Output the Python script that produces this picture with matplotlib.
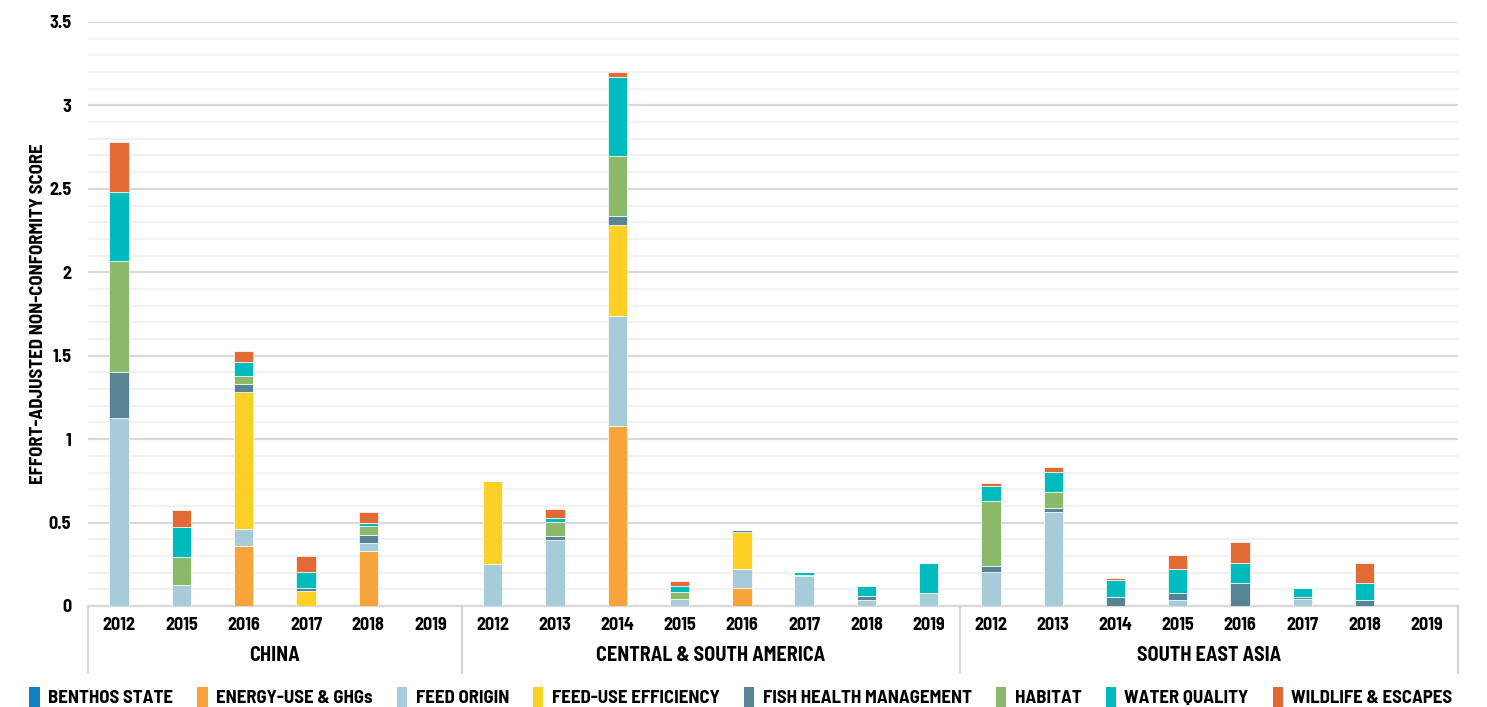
import numpy as np
import matplotlib
matplotlib.use('Agg')
import matplotlib.pyplot as plt
from matplotlib.ticker import MultipleLocator, FuncFormatter
from matplotlib.patches import Patch

plt.rcParams['font.family'] = ['Barlow Semi Condensed', 'DejaVu Sans']
plt.rcParams['font.weight'] = 'bold'

#--categories
groups = ['CHINA', 'CENTRAL & SOUTH AMERICA', 'SOUTH EAST ASIA']
years_china = ['2012', '2015', '2016', '2017', '2018', '2019']
years_csa = ['2012', '2013', '2014', '2015', '2016', '2017', '2018', '2019']
years_sea = ['2012', '2013', '2014', '2015', '2016', '2017', '2018', '2019']

#--series (china | central & south america | south east asia)
benthos_state = [0, 0, 0, 0, 0, 0,
                 0, 0, 0, 0, 0, 0, 0, 0,
                 0, 0, 0, 0, 0, 0, 0, 0]
energy_use = [0, 0, 0.36, 0, 0.33, 0,
              0, 0, 1.08, 0, 0.11, 0, 0, 0,
              0, 0, 0, 0, 0, 0, 0, 0]
feed_origin = [1.125, 0.125, 0.10, 0, 0.046, 0,
               0.25, 0.395, 0.66, 0.04, 0.11, 0.18, 0.035, 0.08,
               0.205, 0.565, 0, 0.035, 0, 0.04, 0, 0]
feed_efficiency = [0, 0, 0.82, 0.09, 0, 0,
                   0.50, 0, 0.545, 0, 0.225, 0, 0, 0,
                   0, 0, 0, 0, 0, 0, 0, 0]
fish_health = [0.275, 0, 0.05, 0.015, 0.048, 0,
               0, 0.025, 0.05, 0, 0.01, 0.008, 0.027, 0,
               0.035, 0.025, 0.055, 0.04, 0.135, 0.016, 0.038, 0]
habitat = [0.67, 0.17, 0.05, 0, 0.056, 0,
           0, 0.085, 0.36, 0.045, 0, 0, 0, 0,
           0.39, 0.095, 0, 0, 0, 0, 0, 0]
water_quality = [0.41, 0.18, 0.08, 0.10, 0.016, 0,
                 0, 0.025, 0.475, 0.037, 0, 0.018, 0.058, 0.18,
                 0.09, 0.12, 0.10, 0.145, 0.12, 0.05, 0.10, 0]
wildlife = [0.30, 0.10, 0.07, 0.095, 0.066, 0,
            0, 0.05, 0.03, 0.028, 0, 0, 0, 0,
            0.015, 0.03, 0.015, 0.085, 0.13, 0, 0.12, 0]

seriesNames = ['BENTHOS STATE', 'ENERGY-USE & GHGs', 'FEED ORIGIN', 'FEED-USE EFFICIENCY',
               'FISH HEALTH MANAGEMENT', 'HABITAT', 'WATER QUALITY', 'WILDLIFE & ESCAPES']
seriesData = [benthos_state, energy_use, feed_origin, feed_efficiency,
              fish_health, habitat, water_quality, wildlife]

#Colors
seriesColors = ['#1380C3', '#F8A43A', '#A7CCD9', '#FDD026',
                '#578493', '#8BB86A', '#00BBBD', '#E26A35']

gridMajor = '#D9D9D9'
gridMinor = '#F2F2F2'
textSize = 13

allYears = years_china + years_csa + years_sea
groupSizes = [len(years_china), len(years_csa), len(years_sea)]
x = np.arange(len(allYears))

fig = plt.figure(figsize=(14.87, 7.07), dpi=100)
ax = fig.add_axes([88/1487, 1-606/707, (1458-88)/1487, (606-22)/707])

#--stacked bars
bottom = np.zeros(len(allYears))
for name, vals, col in zip(seriesNames, seriesData, seriesColors):
    vals = np.array(vals, dtype=float)
    ax.bar(x, vals, width=0.31, bottom=bottom, color=col, edgecolor='white',
           linewidth=0.5, zorder=3)
    bottom += vals

#--axes
ax.set_xlim(-0.5, len(allYears)-0.5)
ax.set_ylim(0, 3.5)
ax.yaxis.set_major_locator(MultipleLocator(0.5))
ax.yaxis.set_minor_locator(MultipleLocator(0.1))
ax.yaxis.set_major_formatter(FuncFormatter(lambda v, p: '%g' % v))
ax.grid(axis='y', which='major', color=gridMajor, linewidth=1.6, zorder=0)
ax.grid(axis='y', which='minor', color=gridMinor, linewidth=1.6, zorder=0)
ax.tick_params(axis='y', which='both', length=0, pad=12, labelsize=textSize)
ax.tick_params(axis='x', length=0, pad=8, labelsize=textSize)
ax.set_xticks(x)
ax.set_xticklabels(allYears)
for s in ['left', 'right', 'top']:
    ax.spines[s].set_visible(False)
ax.spines['bottom'].set_color(gridMajor)
ax.spines['bottom'].set_linewidth(1.6)

ax.set_ylabel('EFFORT-ADJUSTED NON-CONFORMITY SCORE', fontsize=textSize+0.5, fontweight='bold')
ax.yaxis.set_label_coords(-(88-47)/1370, 0.5)

#--group labels and separators
trans = ax.get_xaxis_transform()
start = -0.5
for g, n in zip(groups, groupSizes):
    ax.plot([start, start], [0, -0.114], transform=trans, color=gridMajor,
            linewidth=1.6, clip_on=False)
    ax.text(start + n/2, -0.084, g, transform=trans, ha='center', va='center',
            fontsize=textSize+1.5, fontweight='bold')
    start += n
ax.plot([start, start], [0, -0.114], transform=trans, color=gridMajor,
        linewidth=1.6, clip_on=False)

#--legend
handles = [Patch(facecolor=c, edgecolor='none', label=n) for n, c in zip(seriesNames, seriesColors)]
fig.legend(handles=handles, loc='center', bbox_to_anchor=(0.4983, 1-697/707), ncol=8,
           frameon=False, fontsize=textSize+0.5, handlelength=0.55, handleheight=1.3,
           handletextpad=0.45, columnspacing=1.29)

plt.savefig('out.png', dpi=100)
